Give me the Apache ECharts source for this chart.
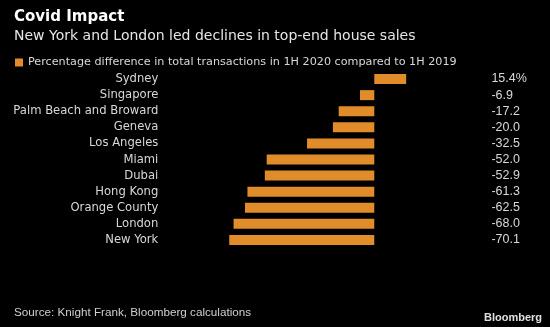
<!DOCTYPE html>
<html>
<head>
<meta charset="utf-8">
<script src="https://cdn.jsdelivr.net/npm/echarts@6/dist/echarts.min.js"></script>
<style>
  html, body { margin: 0; padding: 0; background: #000; }
  #chart { width: 550px; height: 327px; }
</style>
</head>
<body>
<div id="chart"></div>
<script>
// Cities, top to bottom
const cities = ['Sydney', 'Singapore', 'Palm Beach and Broward', 'Geneva', 'Los Angeles',
  'Miami', 'Dubai', 'Hong Kong', 'Orange County', 'London', 'New York'];
// % change in total transactions, 1H 2020 vs 1H 2019
const changes = [15.4, -6.9, -17.2, -20.0, -32.5, -52.0, -52.9, -61.3, -62.5, -68.0, -70.1];
const seriesName = 'Percentage difference in total transactions in 1H 2020 compared to 1H 2019';

const FONT = 'DejaVu Sans';
const PLAIN = 'Liberation Sans';
const BAR = '#E08C2A';

// Value column text: first row carries the unit
const valueText = changes.map((v, i) => v.toFixed(1) + (i === 0 ? '%' : ''));

const chart = echarts.init(document.getElementById('chart'));
chart.setOption({
  backgroundColor: '#000',
  animation: false,
  textStyle: { fontFamily: FONT },
  title: [
    { text: 'Covid Impact', left: 9, top: 5,
      textStyle: { color: '#fff', fontSize: 15, fontWeight: 'bold', fontFamily: FONT } },
    { text: 'New York and London led declines in top-end house sales', left: 9, top: 24,
      textStyle: { color: '#e6e6e6', fontSize: 14, fontWeight: 'normal', fontFamily: FONT } },
    { text: 'Source: Knight Frank, Bloomberg calculations', left: 9, top: 302,
      textStyle: { color: '#cfcfcf', fontSize: 11.7, fontWeight: 'normal', fontFamily: PLAIN } },
    { text: 'Bloomberg', right: 3, top: 307,
      textStyle: { color: '#e0e0e0', fontSize: 11, fontWeight: 'bold', fontFamily: PLAIN } }
  ],
  legend: {
    left: 10, top: 52, icon: 'rect', itemWidth: 8, itemHeight: 8, itemGap: 5,
    textStyle: { color: '#d8d8d8', fontSize: 11.2, fontFamily: FONT },
    data: [seriesName]
  },
  grid: { left: 225.3, right: 550 - 407.4, top: 71, bottom: 327 - 248, containLabel: false },
  xAxis: {
    type: 'value', min: -72, max: 16, show: false
  },
  yAxis: [
    { type: 'category', data: cities, inverse: true,
      axisLine: { show: false }, axisTick: { show: false },
      axisLabel: { color: '#d8d8d8', fontSize: 11.6, margin: 67, interval: 0, fontFamily: FONT } },
    { type: 'category', data: valueText, inverse: true, position: 'right',
      axisLine: { show: false }, axisTick: { show: false },
      axisLabel: { color: '#d8d8d8', fontSize: 12.5, margin: 84, interval: 0, align: 'left', fontFamily: PLAIN } }
  ],
  series: [{
    name: seriesName, type: 'bar', data: changes, barWidth: 10,
    itemStyle: { color: BAR }
  }]
});
</script>
</body>
</html>
